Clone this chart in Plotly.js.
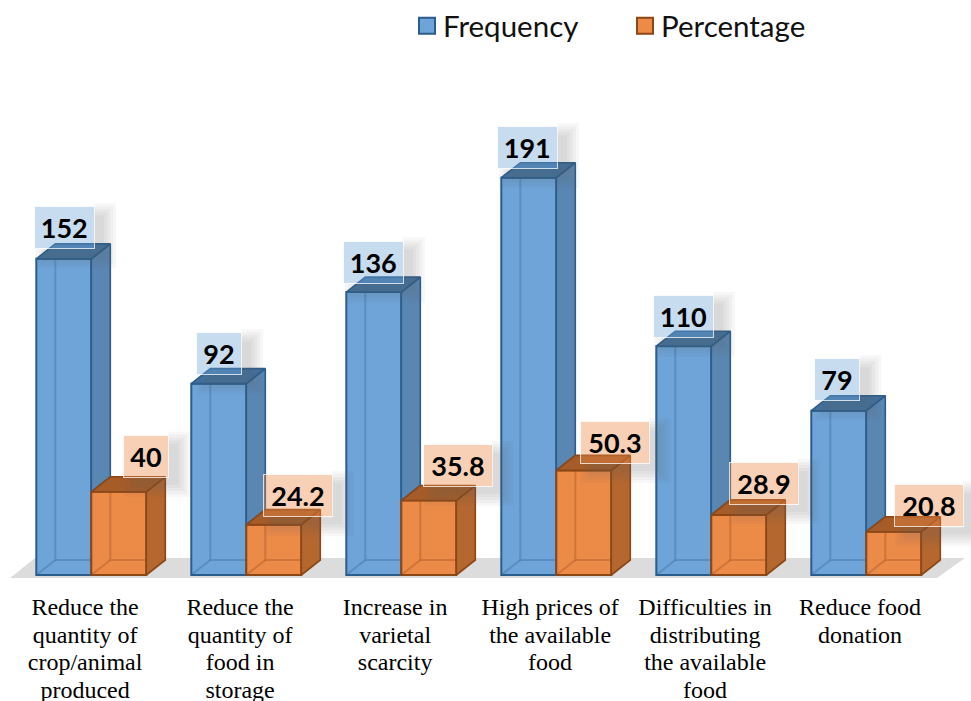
<!DOCTYPE html>
<html>
<head>
<meta charset="utf-8">
<script src="https://cdn.plot.ly/plotly-3.0.1.min.js"></script>
<style>html,body{margin:0;padding:0;background:#fff}#chart{width:971px;height:701px}</style>
</head>
<body>
<div id="chart"></div>
<script>
// Effects of the crisis on food availability
const categories = [
  "Reduce the<br>quantity of<br>crop/animal<br>produced",
  "Reduce the<br>quantity of<br>food in<br>storage",
  "Increase in<br>varietal<br>scarcity",
  "High prices of<br>the available<br>food",
  "Difficulties in<br>distributing<br>the available<br>food",
  "Reduce food<br>donation"
];
const frequency = [152, 92, 136, 191, 110, 79];
const percentage = [40, 24.2, 35.8, 50.3, 28.9, 20.8];

// Scale of the page: screen pixels per axis unit
const W = 971, H = 701;
const pxX = 155, pxY = 2.08;
const originX = 91.3, baseY = 575, plotBottom = 581;
const xu = p => p / pxX, yu = p => p / pxY;

const barW = xu(55), depthX = xu(19), depthY = yu(15);
const xIndex = categories.map((_, i) => i);

const blue = {front: "#6ea4d8", side: "#5a86b2", top: "#41719f", edge: "#2b5d8c", inner: "rgba(43,93,140,0.3)", box: "rgba(110,164,216,0.38)"};
const orange = {front: "#ec8a48", side: "#b4672f", top: "#a65c28", edge: "#8c4716", inner: "rgba(140,71,22,0.3)", box: "rgba(236,138,72,0.40)"};

// Joins polygons into one filled path, separated by gaps
function polys(list) {
  const x = [], y = [];
  list.forEach(pts => {
    pts.forEach(p => { x.push(p[0]); y.push(p[1]); });
    x.push(pts[0][0]); y.push(pts[0][1]);
    x.push(null); y.push(null);
  });
  return {x, y};
}
function faceTrace(list, fill, edge) {
  const p = polys(list);
  return {type: "scatter", mode: "lines", x: p.x, y: p.y, fill: "toself", fillcolor: fill,
          line: {color: edge, width: 1.6}, hoverinfo: "skip", showlegend: false};
}
function lineTrace(list, color) {
  const x = [], y = [];
  list.forEach(s => { s.forEach(p => { x.push(p[0]); y.push(p[1]); }); x.push(null); y.push(null); });
  return {type: "scatter", mode: "lines", x, y, line: {color, width: 2}, hoverinfo: "skip", showlegend: false};
}
function barTrace(name, values, c) {
  return {type: "bar", name, x: xIndex, y: values, showlegend: false, hoverinfo: "skip",
          marker: {color: c.front, line: {color: c.edge, width: 2}}};
}
function keyTrace(name, c) {
  return {type: "scatter", mode: "markers", name, x: [null], y: [null],
          marker: {symbol: "square", size: 17, color: c.front, line: {color: c.edge, width: 2}}};
}

// Depth faces of the bars; a blue side face stops where the orange block begins
const blueLeft = i => i - barW, orangeLeft = i => i;
const blueSide = xIndex.map(i => {
  const x = blueLeft(i) + barW, v = frequency[i], o = percentage[i];
  return [[x, v], [x + depthX, v + depthY], [x + depthX, o + depthY], [x, o]];
});
const blueTop = xIndex.map(i => {
  const x = blueLeft(i), v = frequency[i];
  return [[x, v], [x + depthX, v + depthY], [x + barW + depthX, v + depthY], [x + barW, v]];
});
const orangeSide = xIndex.map(i => {
  const x = orangeLeft(i) + barW, v = percentage[i];
  return [[x, v], [x + depthX, v + depthY], [x + depthX, depthY], [x, 0]];
});
const orangeTop = xIndex.map(i => {
  const x = orangeLeft(i), v = percentage[i];
  return [[x, v], [x + depthX, v + depthY], [x + barW + depthX, v + depthY], [x + barW, v]];
});
const innerEdges = (left, values) => xIndex.flatMap(i => {
  const x = left(i), v = values[i];
  return [
    [[x + depthX, v + depthY - yu(2)], [x + depthX, depthY], [x + barW, depthY]],
    [[x, 0], [x + depthX, depthY]]
  ];
});

const traces = [
  barTrace("Frequency bars", frequency, blue),
  barTrace("Percentage bars", percentage, orange),
  lineTrace(innerEdges(blueLeft, frequency), blue.inner),
  faceTrace(blueSide, blue.side, blue.edge),
  faceTrace(blueTop, blue.top, blue.edge),
  lineTrace(innerEdges(orangeLeft, percentage), orange.inner),
  faceTrace(orangeSide, orange.side, orange.edge),
  faceTrace(orangeTop, orange.top, orange.edge),
  keyTrace("Frequency", blue),
  keyTrace("Percentage", orange)
];

// Hand-placed value tags: offset from the bar centre and top, in pixels
const blueTagShift = [[1, -31], [0.5, -30], [0, -30], [-1, -30], [0, -30], [-1.5, -31]];
const orangeTagShift = [[27.5, -35.5], [24, -29], [29, -35], [31, -28], [25, -31.5], [35, -26]];
const tagHeight = 43;

const shapes = [];
const annotations = [];
function addTag(text, value, centreX, shift, c) {
  const width = text.length * 14.5 + (text.includes(".") ? 10 : 15);
  const cx = centreX + xu(shift[0]);
  const cy = value - yu(shift[1]);
  const boxRight = cx + xu(width / 2), boxBottom = cy - yu(tagHeight / 2);
  // Soft drop shadow: nested translucent L-shaped bands below and right of the tag
  [12, 9, 6, 3, 0].forEach(spread => {
    const left = cx + xu(-width / 2 + 12 - spread), right = boxRight + xu(10 + spread);
    const bottom = boxBottom - yu(7 + spread), top = cy + yu(tagHeight / 2 - 9 + spread);
    shapes.push({type: "path", layer: "above", xref: "x", yref: "y", line: {width: 0},
      fillcolor: "rgba(90,90,90,0.05)",
      path: `M${left},${bottom} L${right},${bottom} L${right},${top} L${boxRight},${top} L${boxRight},${boxBottom} L${left},${boxBottom} Z`});
  });
  annotations.push({x: cx, y: cy, xref: "x", yref: "y", text: "<b>" + text + "</b>", showarrow: false,
    width, height: tagHeight - 2, align: "center", valign: "middle",
    bgcolor: c.box, bordercolor: "rgba(255,255,255,0.75)", borderwidth: 1, borderpad: 0,
    font: {family: "Lato, sans-serif", size: 27, color: "#000"}});
}
xIndex.forEach(i => addTag(String(frequency[i]), frequency[i], blueLeft(i) + barW / 2, blueTagShift[i], blue));
xIndex.forEach(i => addTag(String(percentage[i]), percentage[i], orangeLeft(i) + barW / 2, orangeTagShift[i], orange));

// Grey floor under the bars
const floorY = p => (baseY - p) / pxY;
const floorX = p => (p - originX) / pxX;
shapes.unshift({type: "path", layer: "below", xref: "x", yref: "y", line: {width: 0}, fillcolor: "#dcdcdc",
  path: `M${floorX(10)},${floorY(578)} L${floorX(35)},${floorY(558)} L${floorX(965)},${floorY(558)} L${floorX(937)},${floorY(578)} Z`});

const layout = {
  width: W, height: H,
  margin: {l: 0, r: 0, t: 0, b: H - plotBottom, pad: 0},
  paper_bgcolor: "#fff", plot_bgcolor: "rgba(0,0,0,0)",
  barmode: "group", bargap: 1 - 2 * barW, bargroupgap: 0,
  xaxis: {
    type: "linear", range: [floorX(0), floorX(W)], showgrid: false, zeroline: false, showline: false,
    tickmode: "array", tickvals: xIndex.map(i => i - 0.04), ticktext: categories, ticks: "",
    ticklabelstandoff: 9, tickangle: 0,
    tickfont: {family: "Liberation Serif, serif", size: 24, color: "#000"}
  },
  yaxis: {range: [floorY(plotBottom), floorY(0)], visible: false},
  showlegend: true,
  legend: {
    orientation: "h", x: 407 / W, y: 1, xanchor: "left", yanchor: "top",
    entrywidth: 173, entrywidthmode: "pixels", itemwidth: 30,
    bgcolor: "rgba(0,0,0,0)", font: {family: "Lato, sans-serif", size: 29.5, color: "#111"}
  },
  shapes, annotations
};

Plotly.newPlot("chart", traces, layout, {displayModeBar: false, staticPlot: true}).then(gd => {
  // Tighter leading for the category labels, closer legend text
  gd.querySelectorAll(".xtick text tspan.line").forEach(t => {
    const lineOffset = parseFloat(t.getAttribute("dy") || "0");
    if (lineOffset) t.setAttribute("dy", Math.round(lineOffset / 1.3) * 27.5 + "px");
  });
  gd.querySelectorAll(".legendtext").forEach(t => {
    t.setAttribute("x", parseFloat(t.getAttribute("x")) - 4);
  });
});
</script>
</body>
</html>
